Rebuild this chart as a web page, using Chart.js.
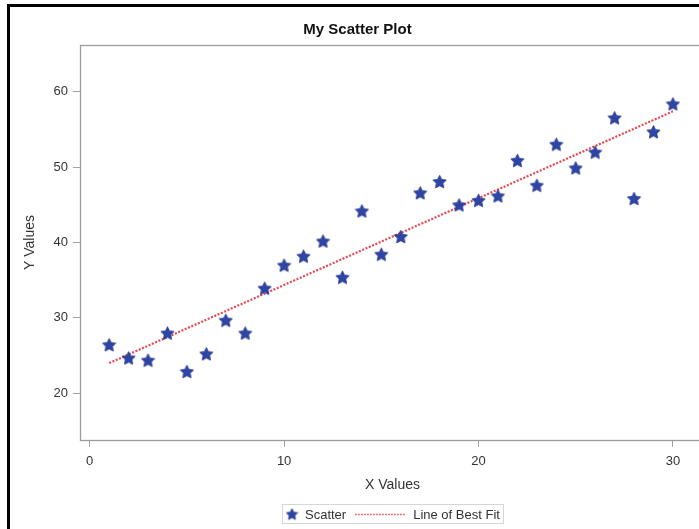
<!DOCTYPE html>
<html>
<head>
<meta charset="utf-8">
<script src="https://cdn.jsdelivr.net/npm/chart.js@4.4.1/dist/chart.umd.min.js"></script>
<style>
html, body { margin: 0; padding: 0; background: #fff; overflow: hidden; width: 699px; height: 529px; }
#frame { position: absolute; left: 7px; top: 4px; border-left: 3px solid #000; border-top: 3px solid #000; width: 780px; height: 540px; }
canvas { display: block; }
</style>
</head>
<body>
<div id="frame"><canvas id="chart" width="766" height="522"></canvas></div>
<script>
// data
const xValues = [1, 2, 3, 4, 5, 6, 7, 8, 9, 10, 11, 12, 13, 14, 15, 16, 17, 18, 19, 20, 21, 22, 23, 24, 25, 26, 27, 28, 29, 30];
const yValues = [26.45, 24.7, 24.4, 28.0, 22.9, 25.25, 29.7, 28.0, 33.95, 37.0, 38.2, 40.2, 35.4, 44.2, 38.45, 40.8, 46.6, 48.1, 45.0, 45.6, 46.2, 50.9, 47.6, 53.05, 49.9, 52.0, 56.55, 45.85, 54.7, 58.4];
const fitX = [1, 30];
const fitY = [24.0, 57.4];
const xTicks = [0, 10, 20, 30];
const yTicks = [20, 30, 40, 50, 60];

const starBlue = "#2f45a6";
const fitRed = "#e8484f";

Chart.defaults.font.family = "'Liberation Sans', Arial, sans-serif";
Chart.defaults.color = "#333";

function makeStar(size, color) {
    const c = document.createElement("canvas");
    c.width = size; c.height = size;
    const g = c.getContext("2d");
    const cx = size / 2, cy = size / 2 + size * 0.05;
    const R = size / 2 - 0.5, r = R * 0.5;
    g.beginPath();
    for (let i = 0; i < 10; i++) {
        const a = -Math.PI / 2 + i * Math.PI / 5;
        const rad = i % 2 ? r : R;
        g.lineTo(cx + rad * Math.cos(a), cy + rad * Math.sin(a));
    }
    g.closePath();
    g.fillStyle = color; g.fill();
    g.strokeStyle = "#24368c"; g.lineWidth = 0.8; g.stroke();
    return c;
}
const starImg = makeStar(15, starBlue);
const legendStar = makeStar(13, starBlue);

const framePlugin = {
    id: "frame",
    beforeDatasetsDraw(chart) {
        const a = chart.chartArea, ctx = chart.ctx;
        ctx.save();
        ctx.strokeStyle = "#9c9c9c"; ctx.lineWidth = 1.3;
        ctx.strokeRect(Math.round(a.left) + 0.5, Math.round(a.top) + 0.5, Math.round(a.right - a.left), Math.round(a.bottom - a.top));
        ctx.restore();
    }
};

const legendPlugin = {
    id: "boxLegend",
    afterDraw(chart) {
        const ctx = chart.ctx, a = chart.chartArea;
        ctx.save();
        ctx.font = "13px 'Liberation Sans', Arial, sans-serif";
        const t1 = "Scatter", t2 = "Line of Best Fit";
        const w1 = ctx.measureText(t1).width, w2 = ctx.measureText(t2).width;
        const total = 10 + 13 + w1 + 9 + 50 + 8 + w2 + 3;
        let x = Math.round((a.left + a.right) / 2 - total / 2);
        const cy = 507;
        ctx.strokeStyle = "#d6d6d6"; ctx.lineWidth = 1;
        ctx.strokeRect(x + 0.5, cy - 9.5, Math.round(total), 19);
        ctx.drawImage(legendStar, x + 10 - 6.5, cy - 6.5);
        ctx.fillStyle = "#333"; ctx.textBaseline = "middle";
        let tx = x + 23;
        ctx.fillText(t1, tx, cy + 1);
        tx += w1 + 9;
        ctx.strokeStyle = fitRed; ctx.lineWidth = 1.5; ctx.setLineDash([1.5, 1.5]);
        ctx.beginPath(); ctx.moveTo(tx, cy + 0.5); ctx.lineTo(tx + 50, cy + 0.5); ctx.stroke();
        ctx.setLineDash([]);
        tx += 58;
        ctx.fillText(t2, tx, cy + 1);
        ctx.restore();
    }
};

new Chart(document.getElementById("chart"), {
    type: "scatter",
    data: {
        datasets: [
            {
                label: "Scatter",
                data: xValues.map((x, i) => ({ x: x, y: yValues[i] })),
                pointStyle: starImg,
                pointRadius: 7,
                pointHoverRadius: 7,
                backgroundColor: starBlue,
                order: 1
            },
            {
                label: "Line of Best Fit",
                data: fitX.map((x, i) => ({ x: x, y: fitY[i] })),
                showLine: true,
                borderColor: fitRed,
                borderWidth: 2.2,
                borderDash: [2, 1.6],
                pointRadius: 0,
                pointHoverRadius: 0,
                order: 2
            }
        ]
    },
    options: {
        responsive: false,
        animation: false,
        events: [],
        layout: { padding: { left: 0, right: 71, top: 0, bottom: 35 } },
        plugins: {
            legend: { display: false },
            tooltip: { enabled: false },
            title: {
                display: true,
                text: "My Scatter Plot",
                color: "#111",
                font: { size: 15, weight: "bold" },
                padding: { top: 14, bottom: 6 }
            }
        },
        scales: {
            x: {
                type: "linear",
                min: -0.5,
                max: 31.65,
                afterBuildTicks: function(s) { s.ticks = xTicks.map(v => ({ value: v })); },
                afterFit: function(s) { s.height = 54; },
                grid: { drawOnChartArea: false, drawTicks: true, tickLength: 7, color: "#a3a3a3" },
                border: { display: false },
                ticks: { padding: 7, color: "#333", font: { size: 13 } },
                title: { display: true, text: "X Values", color: "#333", font: { size: 14 }, padding: { top: 0, bottom: 0 } }
            },
            y: {
                min: 13.8,
                max: 66.2,
                afterBuildTicks: function(s) { s.ticks = yTicks.map(v => ({ value: v })); },
                afterFit: function(s) { s.width = 70; },
                grid: { drawOnChartArea: false, drawTicks: true, tickLength: 7, color: "#a3a3a3" },
                border: { display: false },
                ticks: { padding: 5, color: "#333", font: { size: 13 } },
                title: { display: true, text: "Y Values", color: "#333", font: { size: 14 }, padding: { top: 12, bottom: 0 } }
            }
        }
    },
    plugins: [framePlugin, legendPlugin]
});
</script>
</body>
</html>
